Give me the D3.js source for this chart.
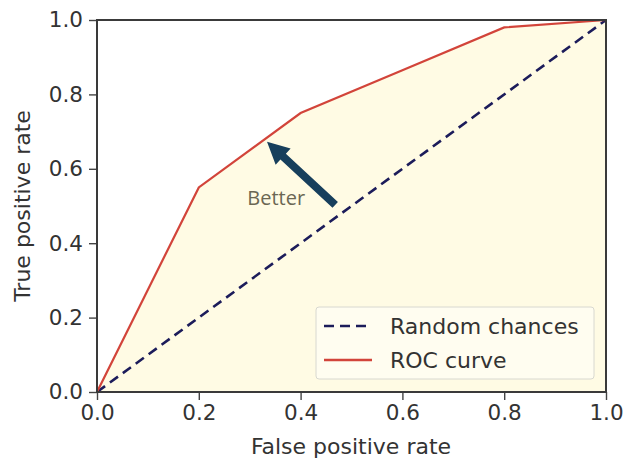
<!DOCTYPE html>
<html><head><meta charset="utf-8">
<script src="https://cdn.jsdelivr.net/npm/d3@7"></script>
<style>body{margin:0;background:#fff}svg{display:block}text{font-family:"DejaVu Sans",sans-serif}</style>
</head><body><svg id="c" width="624" height="462"></svg>
<script>
const rocFpr = [0, 0.2, 0.4, 0.6, 0.8, 1.0];
const rocTpr = [0, 0.55, 0.75, 0.865, 0.98, 1.0];
const randFpr = [0, 1];
const randTpr = [0, 1];
const tickValues = [0, 0.2, 0.4, 0.6, 0.8, 1.0];
const legendLabels = ["Random chances", "ROC curve"];
const arrowFrom = [0.468, 0.503];
const arrowTo = [0.334, 0.673];
const annotation = "Better";

const svg = d3.select("#c");
const m = {l:97, r:18, t:20, b:70};
const W = 624, H = 462;
const x = d3.scaleLinear().domain([0,1]).range([m.l, W-m.r]);
const y = d3.scaleLinear().domain([0,1]).range([H-m.b, m.t]);

const roc = rocFpr.map((d,i)=>[d, rocTpr[i]]);
const rnd = randFpr.map((d,i)=>[d, randTpr[i]]);

// fill under ROC
svg.append("path").datum(roc)
  .attr("d", d3.area().x(d=>x(d[0])).y0(y(0)).y1(d=>y(d[1])))
  .attr("fill", "#fffbe4");

const line = d3.line().x(d=>x(d[0])).y(d=>y(d[1]));
svg.append("path").datum(rnd).attr("d", line).attr("fill","none")
  .attr("stroke","#1c1c5a").attr("stroke-width",2.6).attr("stroke-dasharray","10,6");
svg.append("path").datum(roc).attr("d", line).attr("fill","none")
  .attr("stroke","#d2443a").attr("stroke-width",2.2);

// arrow
const ax0 = x(arrowFrom[0]), ay0 = y(arrowFrom[1]), ax1 = x(arrowTo[0]), ay1 = y(arrowTo[1]);
const ang = Math.atan2(ay1-ay0, ax1-ax0);
const L = Math.hypot(ax1-ax0, ay1-ay0), headL = 22, headW = 11, shaftW = 4;
const g = svg.append("g").attr("transform", `translate(${ax0},${ay0}) rotate(${ang*180/Math.PI})`);
g.append("path").attr("d", `M0,${-shaftW} L${L-headL},${-shaftW} L${L-headL},${-headW} L${L},0 L${L-headL},${headW} L${L-headL},${shaftW} L0,${shaftW} Z`)
  .attr("fill","#173f5c");
svg.append("text").attr("x", x(0.352)).attr("y", y(0.502)).attr("text-anchor","middle")
  .style("font-family","'Open Sans',sans-serif").attr("font-size",20).attr("fill","#6b6753").text(annotation);

// axes
const xa = svg.append("g").attr("transform",`translate(0,${y(0)})`)
  .call(d3.axisBottom(x).tickValues(tickValues).tickFormat(d3.format(".1f")).tickSize(8).tickPadding(5));
const ya = svg.append("g").attr("transform",`translate(${x(0)},0)`)
  .call(d3.axisLeft(y).tickValues(tickValues).tickFormat(d3.format(".1f")).tickSize(8).tickPadding(6));
[xa, ya].forEach(a=>{
  a.select(".domain").remove();
  a.selectAll("line").attr("stroke","#444").attr("stroke-width",1.4);
  a.selectAll("text").attr("font-size",21.5).attr("fill","#333").style("font-family","DejaVu Sans");
});
// frame
svg.append("rect").attr("x",x(0)).attr("y",y(1)).attr("width",x(1)-x(0)).attr("height",y(0)-y(1))
  .attr("fill","none").attr("stroke","#3a3a3a").attr("stroke-width",2);

svg.append("text").attr("x",351).attr("y",454).attr("text-anchor","middle")
  .attr("font-size",22).attr("fill","#333").text("False positive rate");
svg.append("text").attr("transform",`translate(30,${(y(0)+y(1))/2}) rotate(-90)`).attr("text-anchor","middle")
  .attr("font-size",22).attr("fill","#333").text("True positive rate");

// legend
const lg = svg.append("g").attr("transform","translate(316,307)");
lg.append("rect").attr("width",278).attr("height",72).attr("rx",3)
  .attr("fill","#fffdf0").attr("stroke","#d8d8d0").attr("stroke-width",1);
const styles = [{c:"#1c1c5a", d:"10,6", w:2.6},{c:"#d2443a", d:null, w:2.6}];
legendLabels.forEach((t,i)=>{
  const yy = 19 + i*34;
  lg.append("line").attr("x1",8).attr("x2",56).attr("y1",yy).attr("y2",yy)
    .attr("stroke",styles[i].c).attr("stroke-width",styles[i].w).attr("stroke-dasharray",styles[i].d);
  lg.append("text").attr("x",74).attr("y",yy+8).attr("font-size",22).attr("fill","#333").text(t);
});
</script></body></html>
